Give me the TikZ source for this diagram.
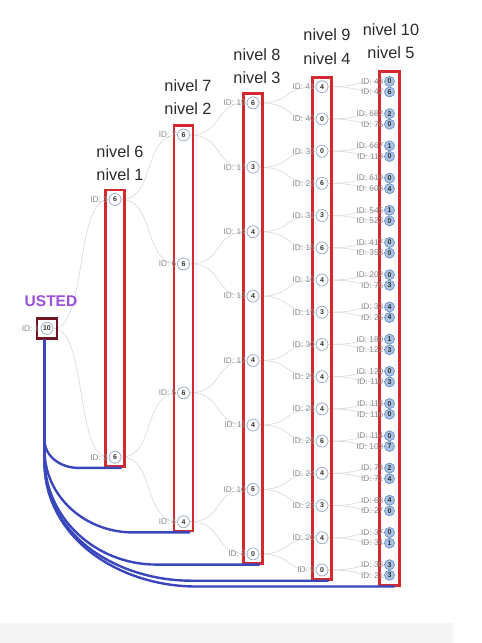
\documentclass[tikz,border=0pt]{standalone}
\usepackage{fontspec}
\setmainfont{Liberation Sans}
\usetikzlibrary{fit,calc,backgrounds}
\definecolor{redc}{HTML}{D22A2E}
\definecolor{maroonc}{HTML}{6E1423}
\definecolor{bluec}{HTML}{3A47BC}
\definecolor{purplec}{HTML}{9A4FDC}
\definecolor{edgec}{HTML}{DCDCDC}
\definecolor{circc}{HTML}{9DB0C6}
\definecolor{lfill}{HTML}{A9C3E4}
\definecolor{ldraw}{HTML}{7397C9}
\definecolor{idgray}{HTML}{8A8A8A}
\definecolor{titlec}{HTML}{2B2B2B}
\definecolor{stripc}{HTML}{F5F5F5}
\begin{document}
\begin{tikzpicture}[x=1pt,y=-1pt,
  nd/.style={circle, draw=circc, fill=white, line width=0.8pt, minimum size=12pt, inner sep=0pt,
    font=\bfseries\fontsize{7}{7}\selectfont, text=black!80},
  leaf/.style={nd, fill=lfill, draw=ldraw, minimum size=10pt},
  idl/.style={anchor=east, font=\fontsize{8.3}{9}\selectfont, text=idgray, inner sep=0.6pt},
  edge/.style={draw=edgec, line width=0.7pt, out=0, in=180, distance=34pt},
  rbox/.style={draw=redc, line width=2.6pt, rectangle, inner sep=3pt},
  bl/.style={draw=bluec, line width=2.4pt},
  title/.style={font=\fontsize{16.3}{19}\selectfont, text=titlec}]
\useasboundingbox (0,0) rectangle (482,643);
\fill[stripc] (0,623) rectangle (453,643);

% circles of the tree
\node[nd] (a0) at (47,328.4) {10};
\foreach \id/\v [count=\i] in {3/6,2/6} {
  \pgfmathsetmacro\yy{199.5+257.7*(\i-1)}
  \node[nd] (b\i) at (115,\yy) {\v};
}
\foreach \id/\v [count=\i] in {7/6,6/6,5/6,4/4} {
  \pgfmathsetmacro\yy{135.0+128.9*(\i-1)}
  \node[nd] (c\i) at (183.5,\yy) {\v};
}
\foreach \id/\v [count=\i] in {19/6,17/3,14/4,13/4,12/4,11/4,10/6,8/0} {
  \pgfmathsetmacro\yy{102.8+64.44*(\i-1)}
  \node[nd] (d\i) at (253,\yy) {\v};
}
\foreach \id/\v [count=\i] in {41/4,40/0,32/0,22/6,31/3,18/6,16/4,15/3,30/4,29/4,28/4,26/6,24/4,23/3,20/4,9/0} {
  \pgfmathsetmacro\yy{86.7+32.22*(\i-1)}
  \node[nd] (e\i) at (322,\yy) {\v};
}
\foreach \id/\v [count=\i] in {43/0,42/6,682/2,76/0,667/1,113/0,619/0,606/4,545/1,523/0,417/0,358/0,202/0,75/3,33/4,25/4,180/1,122/3,120/0,119/3,118/0,116/0,114/0,103/7,73/2,71/4,68/4,27/0,37/0,34/1,36/3,21/3} {
  \pgfmathsetmacro\yy{86.7+32.22*floor((\i-1)/2)+10.6*mod(\i-1,2)-5.3}
  \node[leaf] (f\i) at (389.5,\yy) {\v};
}

% tree edges
\begin{scope}[on background layer]
  \draw[edge] (a0) to (b1);
  \draw[edge] (a0) to (b2);
  \foreach \p in {1,2} {
    \pgfmathtruncatemacro\ca{2*\p-1}\pgfmathtruncatemacro\cb{2*\p}
    \draw[edge] (b\p) to (c\ca); \draw[edge] (b\p) to (c\cb);
  }
  \foreach \p in {1,...,4} {
    \pgfmathtruncatemacro\ca{2*\p-1}\pgfmathtruncatemacro\cb{2*\p}
    \draw[edge] (c\p) to (d\ca); \draw[edge] (c\p) to (d\cb);
  }
  \foreach \p in {1,...,8} {
    \pgfmathtruncatemacro\ca{2*\p-1}\pgfmathtruncatemacro\cb{2*\p}
    \draw[edge] (d\p) to (e\ca); \draw[edge] (d\p) to (e\cb);
  }
  \foreach \p in {1,...,16} {
    \pgfmathtruncatemacro\ca{2*\p-1}\pgfmathtruncatemacro\cb{2*\p}
    \draw[edge] (e\p) to (f\ca); \draw[edge] (e\p) to (f\cb);
  }
\end{scope}

% level boxes
\node[draw=maroonc, line width=2.6pt, inner sep=3.5pt, fit=(a0)] (A0) {};
\node[rbox, fit=(b1)(b2)] (B1) {};
\node[rbox, fit=(c1)(c4)] (B2) {};
\node[rbox, fit=(d1)(d8)] (B3) {};
\node[rbox, fit=(e1)(e16)] (B4) {};
\node[rbox, inner sep=4.5pt, fit=(f1)(f32)] (B5) {};

% ID labels
\node[idl] (a0l) at ([xshift=-0.5pt]a0.west) {ID: 1};
\foreach \id [count=\i] in {3,2} {\node[idl] (bl\i) at (b\i.west) {ID: \id};}
\foreach \id [count=\i] in {7,6,5,4} {\node[idl] (cl\i) at (c\i.west) {ID: \id};}
\foreach \id [count=\i] in {19,17,14,13,12,11,10,8} {\node[idl] (dl\i) at (d\i.west) {ID: \id};}
\foreach \id [count=\i] in {41,40,32,22,31,18,16,15,30,29,28,26,24,23,20,9} {\node[idl] (el\i) at (e\i.west) {ID: \id};}
\foreach \id [count=\i] in {43,42,682,76,667,113,619,606,545,523,417,358,202,75,33,25,180,122,120,119,118,116,114,103,73,71,68,27,37,34,36,21} {\node[idl] (fl\i) at (f\i.west) {ID: \id};}

% titles
\node[font=\bfseries\fontsize{15.5}{18}\selectfont, text=purplec] (usted) at (51,301) {USTED};
\node[title] (t6) at (120,152) {nivel 6};
\node[title] (t1) at (120,175) {nivel 1};
\node[title] (t7) at (188,86) {nivel 7};
\node[title] (t2) at (188,109) {nivel 2};
\node[title] (t8) at (257,55) {nivel 8};
\node[title] (t3) at (257,78) {nivel 3};
\node[title] (t9) at (327,35) {nivel 9};
\node[title] (t4) at (327,59) {nivel 4};
\node[title] (t10) at (391,30) {nivel 10};
\node[title] (t5) at (391,53) {nivel 5};

% blue connectors from the root to each level box
\draw[bl] ([xshift=-2.5pt]A0.south) -- ++(0,100) to[out=-90,in=180] ($(B1.south west)+(-26,0)$) -- ([xshift=-4pt]B1.south east);
\draw[bl] ([xshift=-2.5pt]A0.south) -- ++(0,110) to[out=-90,in=180] ($(B2.south west)+(-40,0)$) -- ([xshift=-4pt]B2.south east);
\draw[bl] ([xshift=-2.5pt]A0.south) -- ++(0,118) to[out=-90,in=180] ($(B3.south west)+(-86,0)$) -- ([xshift=-4pt]B3.south east);
\draw[bl] ([xshift=-2.5pt]A0.south) -- ++(0,122) to[out=-90,in=180] ($(B4.south west)+(-120,0)$) -- ([xshift=-4pt]B4.south east);
\draw[bl] ([xshift=-2.5pt]A0.south) -- ++(0,122) to[out=-90,in=180] ($(B5.south west)+(-182,0)$) -- ([xshift=-6pt]B5.south east);
\end{tikzpicture}
\end{document}
